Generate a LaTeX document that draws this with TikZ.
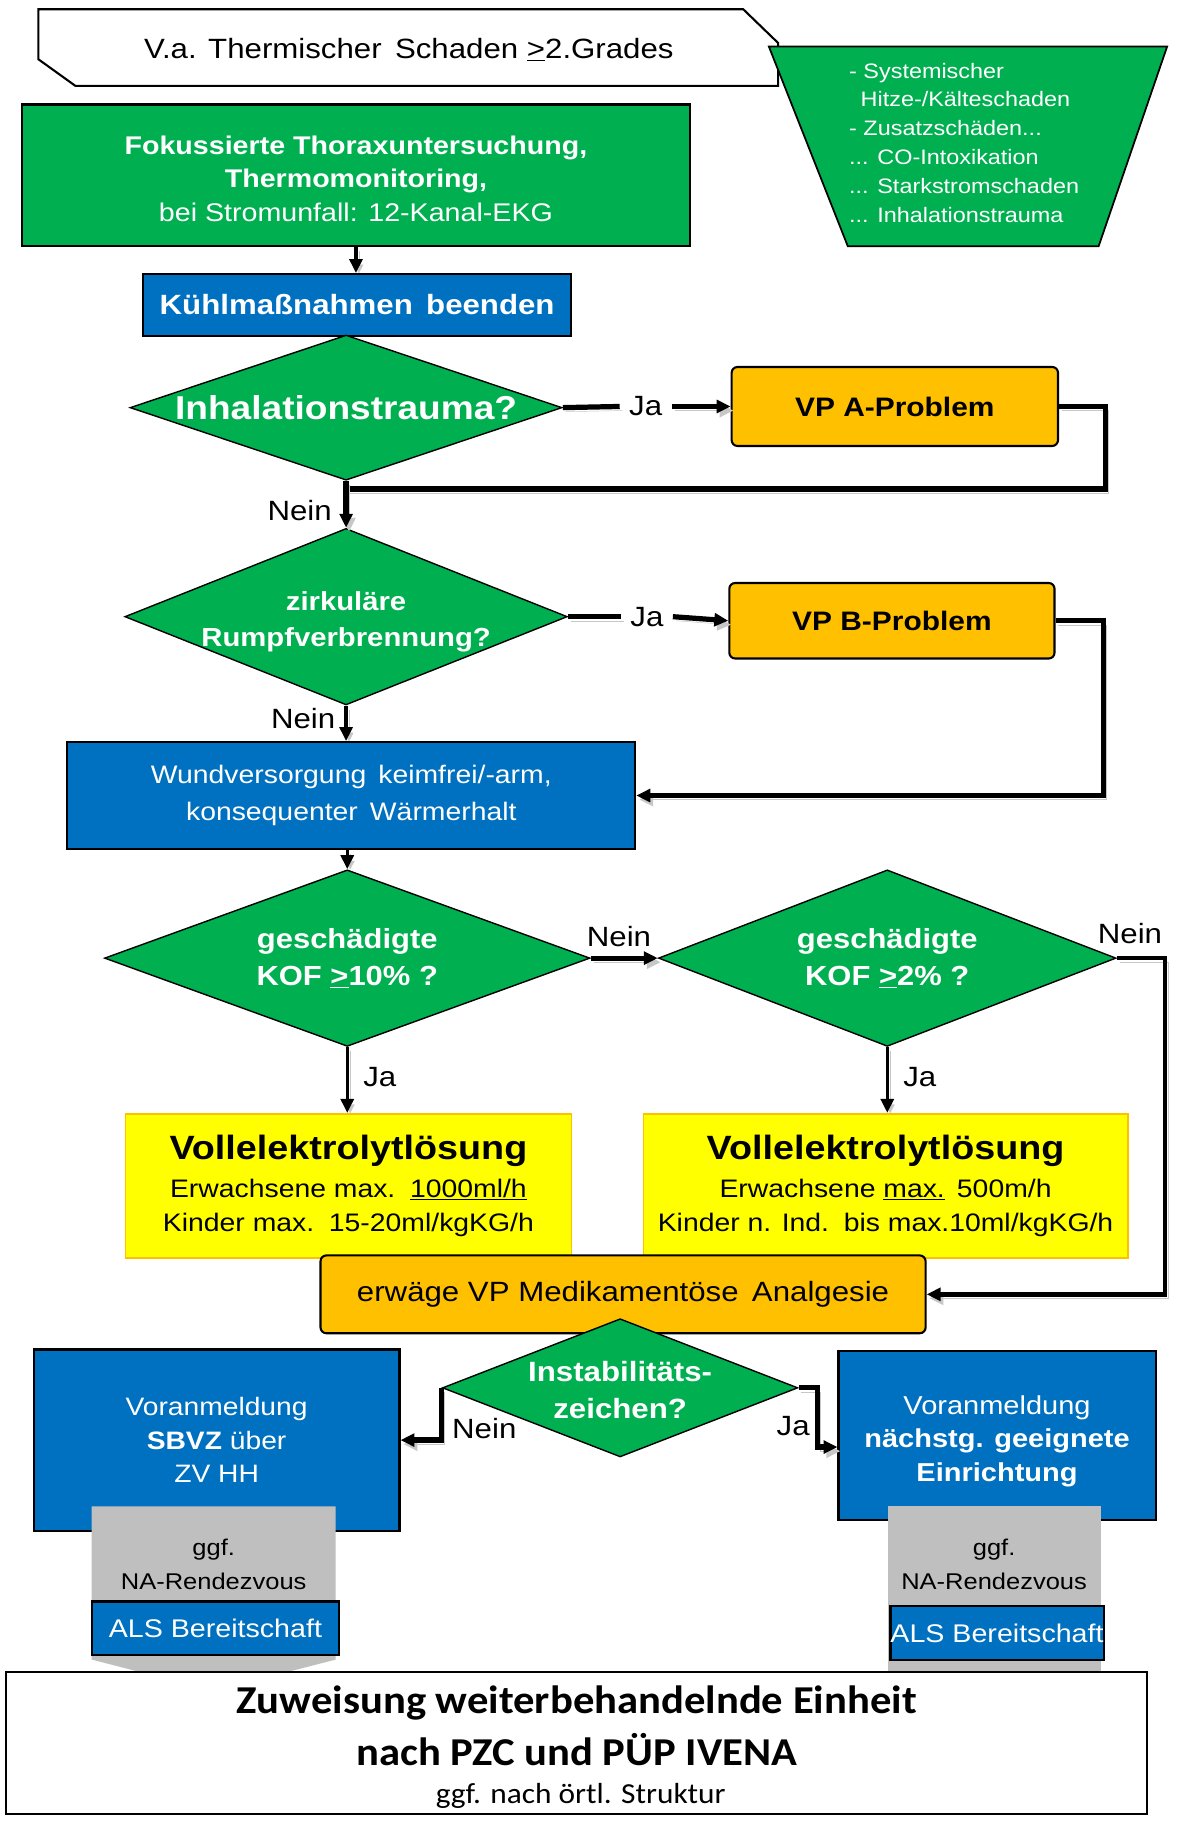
\documentclass[tikz,border=0pt]{standalone}
\usepackage{fontspec}
\setmainfont{Liberation Sans}[FakeStretch=1.12]
\newfontfamily\calfont{Carlito}[FakeStretch=1.08]
\usetikzlibrary{arrows.meta,shapes.geometric,calc}
\definecolor{cgreen}{HTML}{00B050}
\definecolor{cblue}{HTML}{0070C0}
\definecolor{corange}{HTML}{FFC000}
\definecolor{cyellow}{HTML}{FFFF00}
\definecolor{cgray}{HTML}{BFBFBF}
\newcommand{\setfs}[2]{\fontsize{#1}{#2}\selectfont}
\begin{document}
\begin{tikzpicture}[x=1pt,y=-1pt,
  greenbox/.style={rectangle, draw=black, line width=1.8pt, fill=cgreen, text=white, align=center, inner sep=0pt},
  bluebox/.style={rectangle, draw=black, line width=1.8pt, fill=cblue, text=white, align=center, inner sep=0pt},
  vpbox/.style={rectangle, rounded corners=5pt, draw=black, line width=1.8pt, fill=corange, text=black, align=center, inner sep=0pt},
  yelbox/.style={rectangle, draw=corange, line width=1.5pt, fill=cyellow, text=black, align=center, inner sep=0pt},
  dia/.style={diamond, draw=black, line width=1.2pt, fill=cgreen, inner sep=0pt},
  dtext/.style={text=white, align=center, inner sep=0pt},
  lbl/.style={font=\setfs{24}{26}, inner sep=0pt},
  conn/.style={line width=#1, preaction={draw=black!22, transform canvas={shift={(2.5pt,-3.5pt)}}}},
  conn/.default=3.5pt,
  arr/.style={-{Triangle[length=12pt,width=11pt]}}
]
\useasboundingbox (0,0) rectangle (1013,1568);
\fill[white] (0,0) rectangle (1013,1568);

% title banner
\draw[line width=1.8pt, fill=white] (33,8) -- (640,8) -- (670,37) -- (670,74) -- (65,74) -- (33,51) -- cycle;
\node[font=\setfs{24}{26}, inner sep=0pt] (title) at (352,43) {V.a. Thermischer\, Schaden \underline{>}2.Grades};

% side trapezoid
\draw[line width=1.5pt, fill=cgreen] (662,40) -- (1005,40) -- (946,212) -- (730,212) -- cycle;
\node[anchor=north west, align=left, text=white, font=\setfs{18}{24.8}, inner sep=0pt] (side) at (731,54)
  {- Systemischer\\\hspace*{0.55em}Hitze-/Kälteschaden\\- Zusatzschäden...\\... CO-Intoxikation\\... Starkstromschaden\\... Inhalationstrauma};

% main boxes
\node[greenbox, minimum width=575pt, minimum height=122pt] (fok) at (306.5,151) {};
\node[dtext, font=\setfs{22}{29}] (foktext) at (306.5,154)
  {\textbf{Fokussierte Thoraxuntersuchung,}\\\textbf{Thermomonitoring,}\\bei Stromunfall: 12-Kanal-EKG};
\node[bluebox, minimum width=369pt, minimum height=53pt, font=\setfs{24}{26}\bfseries] (kuehl) at (307.5,262.5) {Kühlmaßnahmen\, beenden};

\node[dia, minimum width=372pt, minimum height=125pt] (d1) at (298,351) {};
\node[dtext, font=\setfs{28.5}{30}\bfseries] at (d1.center) {Inhalationstrauma?};
\node[vpbox, minimum width=281pt, minimum height=68pt, font=\setfs{23}{25}\bfseries] (vpa) at (770.5,350) {VP A-Problem};

\node[dia, minimum width=381pt, minimum height=152pt] (d2) at (298,531) {};
\node[dtext, font=\setfs{22.5}{31}\bfseries] at (298,535) {zirkuläre\\Rumpfverbrennung?};
\node[vpbox, minimum width=280pt, minimum height=65pt, font=\setfs{23}{25}\bfseries] (vpb) at (768,534.5) {VP B-Problem};

\node[bluebox, minimum width=489pt, minimum height=92pt, font=\setfs{21.8}{32}] (wund) at (302.5,685) {Wundversorgung\, keimfrei/-arm,\\konsequenter\, Wärmerhalt};

\node[dia, minimum width=418pt, minimum height=152pt] (d3) at (299,825) {};
\node[dtext, font=\setfs{23.8}{32}\bfseries] at (d3.center) {geschädigte\\KOF \underline{>}10\% ?};
\node[dia, minimum width=394pt, minimum height=152pt] (d4) at (764,825) {};
\node[dtext, font=\setfs{23.8}{32}\bfseries] at (d4.center) {geschädigte\\KOF \underline{>}2\% ?};

\node[yelbox, minimum width=384pt, minimum height=124pt, font=\setfs{21.8}{29}] (y1) at (300,1021)
  {{\setfs{29}{30}\bfseries Vollelektrolytlösung}\\[4pt]Erwachsene max.\, \underline{1000ml/h}\\Kinder max.\, 15-20ml/kgKG/h};
\node[yelbox, minimum width=417pt, minimum height=124pt, font=\setfs{21.8}{29}] (y2) at (762.5,1021)
  {{\setfs{29}{30}\bfseries Vollelektrolytlösung}\\[4pt]Erwachsene \underline{max.}\, 500m/h\\Kinder n. Ind.\, bis max.10ml/kgKG/h};

\node[vpbox, minimum width=521pt, minimum height=67pt, font=\setfs{24}{26}] (analg) at (536.5,1114.5) {erwäge VP Medikamentöse\, Analgesie};

\node[dia, minimum width=306pt, minimum height=119pt] (d5) at (534,1195) {};
\node[dtext, font=\setfs{24}{32}\bfseries] at (534,1197) {Instabilitäts-\\zeichen?};

\node[bluebox, minimum width=315pt, minimum height=156pt, font=\setfs{21.7}{29}] (lblue) at (186.5,1240)
  {Voranmeldung\\\textbf{SBVZ} über\\ZV HH};
\node[bluebox, minimum width=273pt, minimum height=146pt] (rblue) at (858.5,1236) {};
\node[dtext, font=\setfs{22.3}{29}] (rbluetext) at (858.5,1241)
  {Voranmeldung\\\textbf{nächstg. geeignete}\\\textbf{Einrichtung}};

% gray rendezvous shapes
\fill[cgray] (79,1297) -- (289,1297) -- (289,1429) -- (184,1456) -- (79,1429) -- cycle;
\fill[cgray] (765,1297) -- (948,1297) -- (948,1445) -- (765,1445) -- cycle;
\node[align=center, font=\setfs{19.6}{30}, inner sep=0pt] (lgg) at (184,1347) {ggf.\\NA-Rendezvous};
\node[align=center, font=\setfs{19.6}{30}, inner sep=0pt] (rgg) at (856,1347) {ggf.\\NA-Rendezvous};
\node[bluebox, minimum width=213pt, minimum height=46pt, font=\setfs{22}{24}] (lals) at (185.5,1402) {ALS Bereitschaft};
\node[bluebox, minimum width=183pt, minimum height=46pt, font=\setfs{22}{24}] (rals) at (858.5,1406) {ALS Bereitschaft};

% bottom box
\node[rectangle, draw=black, line width=1.8pt, fill=white, minimum width=983pt, minimum height=122pt, inner sep=0pt] (bottom) at (496.5,1501) {};
\node[align=center, inner sep=0pt, font=\calfont\setfs{34}{45}\bfseries] (bt) at (496.5,1486)
  {Zuweisung weiterbehandelnde Einheit\\nach PZC und PÜP IVENA};
\node[inner sep=0pt, font=\calfont\setfs{25}{27}] (bs) at (500,1546) {ggf. nach örtl. Struktur};

% labels
\node[lbl] (ja1) at (556,350) {Ja};
\node[lbl] (ja2) at (557,531) {Ja};
\node[lbl] (nein1) at (258,440) {Nein};
\node[lbl] (nein2) at (261,619) {Nein};
\node[lbl] (nein3) at (533,806) {Nein};
\node[lbl] (nein4) at (973,804) {Nein};
\node[lbl] (ja3) at (327,927) {Ja};
\node[lbl] (ja4) at (792,927) {Ja};
\node[lbl] (nein5) at (417,1230) {Nein};
\node[lbl] (ja5) at (683,1228) {Ja};

\coordinate (c1) at (952,421);
\coordinate (c2) at (950,685);
\coordinate (c3) at (1003,825);
\coordinate (c4) at (704,1195);

% connectors
\draw[conn=3pt, arr] (fok.south) -- (fok.south |- kuehl.north);
\draw[conn=4.5pt] (d1.east) -- ([xshift=-8pt]ja1.west);
\draw[conn=4.5pt, arr] ([xshift=8pt]ja1.east) -- (vpa.west);
\draw[conn=4.5pt] (vpa.east) -| (c1) -- (c1 -| d1.south);
\draw[conn=4.5pt, arr] (d1.south) -- (d2.north);
\draw[conn=4.5pt] (d2.east) -- ([xshift=-8pt]ja2.west);
\draw[conn=4.5pt, arr] ([xshift=8pt]ja2.east) -- (vpb.west);
\draw[conn=4.5pt, arr] (vpb.east) -| (c2) -- (wund.east);
\draw[conn=3pt, arr] (d2.south) -- (d2.south |- wund.north);
\draw[conn=3pt, arr] (wund.south -| d3.north) -- (d3.north);
\draw[conn=4.5pt, arr] (d3.east) -- (d4.west);
\draw[conn=4pt, arr] (d4.east) -- (c3) |- (analg.east);
\draw[conn=3pt, arr] (d3.south) -- (d3.south |- y1.north);
\draw[conn=3pt, arr] (d4.south) -- (d4.south |- y2.north);
\draw[conn=4.5pt, arr] (d5.west) |- ([yshift=0pt]lblue.east);
\draw[conn=4.5pt, arr] (d5.east) -- (c4) |- ([yshift=-10pt]rblue.west);
\end{tikzpicture}
\end{document}
